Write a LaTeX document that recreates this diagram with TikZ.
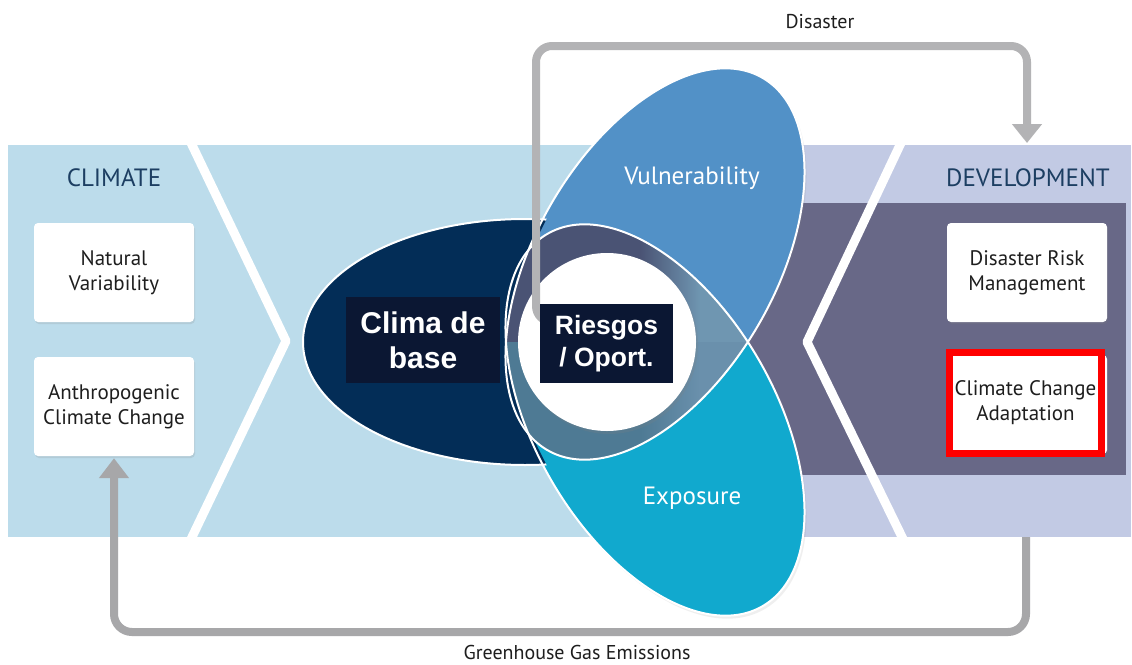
\documentclass[tikz,border=0pt]{standalone}
\usepackage{fontspec}
\setmainfont{PT Sans}
\newfontfamily\arialfont{Liberation Sans}
\usetikzlibrary{arrows.meta,shadows}
\definecolor{bandblue}{HTML}{BCDCEB}
\definecolor{lavender}{HTML}{C2CAE4}
\definecolor{devdark}{HTML}{686887}
\definecolor{navyD}{HTML}{032D57}
\definecolor{vblue}{HTML}{5291C7}
\definecolor{ecyan}{HTML}{11A9CE}
\definecolor{lensUL}{HTML}{4A5374}
\definecolor{lensLL}{HTML}{4E7A94}
\definecolor{lensR}{HTML}{6F96B1}
\definecolor{lensRb}{HTML}{6A90AC}
\definecolor{boxnavy}{HTML}{0B1733}
\definecolor{titleblue}{HTML}{1C3E62}
\definecolor{txtdark}{HTML}{1E1E1E}
\definecolor{arrowgray}{HTML}{A7A7A9}
\definecolor{arrowgrayb}{HTML}{B3B3B5}
\begin{document}
\begin{tikzpicture}[x=1pt,y=-1pt,
  vrot/.style={rotate around={60:(655,264)}},
  erot/.style={rotate around={-60:(655,420)}},
  outline/.style={draw=white,line width=2pt},
  chev/.style={draw=white,line width=9pt,line join=round},
  wbox/.style={fill=white,rounded corners=4pt,minimum width=160pt,minimum height=99pt,
    align=center,inner sep=0pt,text=txtdark,font=\fontsize{21}{25}\selectfont,
    drop shadow={opacity=0.18,shadow xshift=1pt,shadow yshift=-2pt}},
  spbox/.style={fill=boxnavy,text=white,align=center,inner sep=0pt,
    font=\arialfont\bfseries\fontsize{30}{35}\selectfont},
  title/.style={text=titleblue,font=\fontsize{25}{28}\selectfont,inner sep=0pt},
  lbl/.style={text=txtdark,font=\fontsize{20}{22}\selectfont,inner sep=0pt},
  ellbl/.style={text=white,font=\fontsize{25}{28}\selectfont,inner sep=0pt},
  garrow/.style={draw=arrowgray,line width=8pt,rounded corners=18pt,
    -{Triangle[width=29pt,length=20pt]}},
  garrowtop/.style={draw=arrowgrayb,line width=8pt,rounded corners=16pt,
    -{Triangle[width=29pt,length=19pt]}}]
\useasboundingbox (0,0) rectangle (1132,664);
\fill[white] (0,0) rectangle (1132,664);

% background band
\fill[bandblue] (8,145) rectangle (1131,537);
\fill[lavender] (760,145) rectangle (1131,537);
\fill[devdark] (720,203) rectangle (1126,475);
\begin{scope}
  \clip (8,145) rectangle (1131,537);
  \draw[chev] (183.4,127) -- (286,341) -- (183.4,555);
  \draw[chev] (908.5,127) -- (807,342) -- (910.8,555);
\end{scope}

% Greenhouse gas emissions arrow
\node[wbox] (acc) at (114,406.5) {Anthropogenic\\Climate Change};
\coordinate (ghg) at (1026,537);
\draw[garrow] (ghg) -- (1026,632) -- (114,632) -- ([yshift=-2pt]acc.south);

% ellipses
\fill[vblue,vrot,drop shadow={opacity=0.12,shadow xshift=2pt,shadow yshift=-3pt}]
  (655,264) ellipse [x radius=215pt,y radius=120pt];
\fill[ecyan,erot,drop shadow={opacity=0.12,shadow xshift=2pt,shadow yshift=-3pt}]
  (655,420) ellipse [x radius=215pt,y radius=120pt];
\begin{scope}
  \clip (0,0) -- (565,0) -- (565,186) -- (553,206) -- (536,240) -- (528,255)
    -- (528,429) -- (536,444) -- (553,478) -- (565,498) -- (565,664) -- (0,664) -- cycle;
  \fill[navyD] (525,342) ellipse [x radius=222pt,y radius=123pt];
  \draw[outline] (525,342) ellipse [x radius=222pt,y radius=123pt];
\end{scope}
\begin{scope}
  \clip[vrot] (655,264) ellipse [x radius=215pt,y radius=120pt];
  \clip[erot] (655,420) ellipse [x radius=215pt,y radius=120pt];
  \fill[lensUL] (480,180) rectangle (640,342);
  \fill[left color=lensUL,right color=lensR] (640,180) rectangle (700,342);
  \fill[lensR] (700,180) rectangle (770,342);
  \fill[lensLL] (480,342) rectangle (640,500);
  \fill[left color=lensLL,right color=lensRb] (640,342) rectangle (700,500);
  \fill[lensRb] (700,342) rectangle (770,500);
\end{scope}
\draw[outline,vrot] (655,264) ellipse [x radius=215pt,y radius=120pt];
\draw[outline,erot] (655,420) ellipse [x radius=215pt,y radius=120pt];

% central circle
\node[circle,fill=white,minimum size=178pt,inner sep=0pt,
  drop shadow={opacity=0.2,shadow xshift=2pt,shadow yshift=-3pt}] (risk) at (607,342) {};

% Disaster arrow
\coordinate (dstart) at (562,322);
\coordinate (devtop) at (1027,143);
\draw[garrowtop] (dstart) -- (536,322) -- (536,46) -- (1027,46) -- (devtop);

% Spanish labels
\node[spbox,minimum width=154pt,minimum height=86pt] (clima) at (423,340) {Clima de\\base};
\node[spbox,minimum width=133pt,minimum height=79pt,
  font=\arialfont\bfseries\fontsize{26.5}{32}\selectfont] (rie) at (606.5,343.5) {Riesgos\\/ Oport.};

% ellipse labels
\node[ellbl] (vul) at (692,178) {Vulnerability};
\node[ellbl] (exp) at (692,498) {Exposure};

% titles
\node[title] (clim) at (114,178) {CLIMATE};
\node[title] (dev) at (1028,178) {DEVELOPMENT};

% boxes
\node[wbox] (nat) at (114,272.5) {Natural\\Variability};
\node[wbox] (drm) at (1027,272.5) {Disaster Risk\\Management};
\node[wbox] (ccaback) at (1027,404.5) {};
\node[fill=white,draw=red,line width=7pt,minimum width=152pt,minimum height=101pt,
  align=center,inner sep=0pt,text=txtdark,font=\fontsize{21}{25}\selectfont]
  (cca) at (1025.5,403) {Climate Change\\Adaptation};

% arrow labels
\node[lbl] (dis) at (820,22) {Disaster};
\node[lbl] (ghglbl) at (577,652) {Greenhouse Gas Emissions};
\end{tikzpicture}
\end{document}
